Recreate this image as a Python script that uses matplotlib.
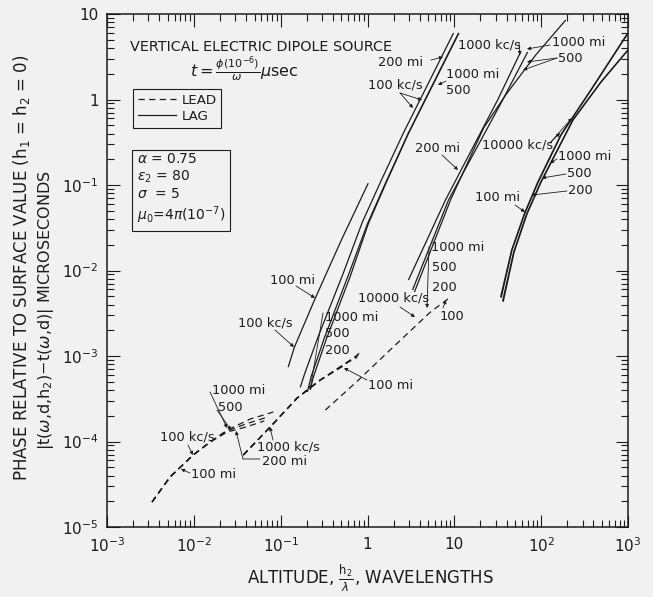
import numpy as np
import matplotlib
matplotlib.use("Agg")
import matplotlib.pyplot as plt
from matplotlib.lines import Line2D
from matplotlib.ticker import FixedLocator, LogLocator, NullFormatter

# ---------------- data ----------------
x_ticks = [1e-3, 1e-2, 1e-1, 1, 10, 1e2, 1e3]
x_tick_labels = ["10$^{-3}$", "10$^{-2}$", "10$^{-1}$", "1", "10", "10$^{2}$", "10$^{3}$"]
y_ticks = [1e-5, 1e-4, 1e-3, 1e-2, 1e-1, 1, 10]
y_tick_labels = ["10$^{-5}$", "10$^{-4}$", "10$^{-3}$", "10$^{-2}$", "10$^{-1}$", "1", "10"]

# LAG curves (solid)
lag100_100mi_x = [0.122, 0.144, 0.251, 0.50, 1.02]
lag100_100mi_y = [7.4e-4, 1.27e-3, 4.77e-3, 0.0227, 0.105]
lag100_200mi_x = [0.168, 0.192, 0.272, 0.527, 0.873, 1.41, 2.59, 5.04, 9.79]
lag100_200mi_y = [4.3e-4, 6.5e-4, 1.71e-3, 9.35e-3, 0.0369, 0.108, 0.406, 1.56, 6.0]
lag100_500mi_x = [0.203, 0.225, 0.318, 0.603, 0.997, 1.61, 2.96, 5.75, 11.2]
lag100_500mi_y = [3.8e-4, 5.8e-4, 1.62e-3, 8.86e-3, 0.035, 0.105, 0.406, 1.56, 6.0]
lag100_1000mi_x = [0.219, 0.238, 0.336, 0.635, 1.02, 1.63, 2.98, 5.8, 11.3]
lag100_1000mi_y = [4.0e-4, 5.68e-4, 1.58e-3, 8.63e-3, 0.035, 0.105, 0.406, 1.56, 6.0]

lag1000_200mi_x = [2.96, 7.91, 31.5, 58.0]
lag1000_200mi_y = [7.74e-3, 0.0668, 0.986, 3.6]
lag1000_500mi_x = [3.30, 8.57, 36.0, 69.9]
lag1000_500mi_y = [5.91e-3, 0.0668, 0.986, 3.6]
lag1000_1000mi_x = [3.47, 9.04, 21.7, 39.0, 86.4, 192]
lag1000_1000mi_y = [5.6e-3, 0.0668, 0.464, 1.13, 3.31, 8.51]

lag10000_100mi_x = [34.1, 45.7, 64.5, 91.2, 168, 372, 995]
lag10000_100mi_y = [4.9e-3, 0.0174, 0.0471, 0.108, 0.385, 1.29, 6.0]
lag10000_200mi_x = [34.6, 46.2, 65.2, 92.5, 170, 376, 995]
lag10000_200mi_y = [4.8e-3, 0.0174, 0.0471, 0.108, 0.385, 1.29, 5.9]
lag10000_500mi_x = [36.0, 48.2, 68.0, 98.7, 231, 486, 995]
lag10000_500mi_y = [4.4e-3, 0.0164, 0.0458, 0.108, 0.575, 1.60, 3.79]
lag10000_1000mi_x = [36.5, 48.8, 68.8, 99.8, 233, 490, 995]
lag10000_1000mi_y = [4.3e-3, 0.0164, 0.0458, 0.108, 0.575, 1.60, 3.75]

# LEAD curves (dashed)
lead100_100mi_x = [0.0033, 0.00533, 0.00982, 0.0154]
lead100_100mi_y = [1.96e-5, 3.85e-5, 6.95e-5, 9.86e-5]
lead100_200mi_x = [0.0033, 0.00533, 0.00982, 0.0154, 0.0242, 0.0401, 0.0647]
lead100_200mi_y = [1.96e-5, 3.85e-5, 6.95e-5, 9.86e-5, 1.29e-4, 1.48e-4, 1.74e-4]
lead100_500mi_x = [0.0033, 0.00533, 0.00982, 0.0154, 0.0242, 0.0423, 0.0720]
lead100_500mi_y = [1.96e-5, 3.85e-5, 6.95e-5, 9.86e-5, 1.33e-4, 1.64e-4, 1.94e-4]
lead100_1000mi_x = [0.0033, 0.00533, 0.00982, 0.0154, 0.0242, 0.0446, 0.0822]
lead100_1000mi_y = [1.96e-5, 3.85e-5, 6.95e-5, 9.86e-5, 1.36e-4, 1.83e-4, 2.21e-4]

lead1000_100mi_x = [0.0371, 0.0759, 0.155, 0.286, 0.527]
lead1000_100mi_y = [6.95e-5, 1.48e-4, 3.23e-4, 5.24e-4, 7.64e-4]
lead1000_200mi_x = [0.0371, 0.0759, 0.155, 0.286, 0.603, 0.766]
lead1000_200mi_y = [6.95e-5, 1.48e-4, 3.23e-4, 5.24e-4, 8.5e-4, 9.7e-4]
lead1000_500mi_x = [0.0371, 0.0759, 0.155, 0.286, 0.635, 0.785]
lead1000_500mi_y = [6.95e-5, 1.48e-4, 3.23e-4, 5.24e-4, 8.98e-4, 1.03e-3]
lead1000_1000mi_x = [0.0371, 0.0759, 0.155, 0.286, 0.670, 0.828]
lead1000_1000mi_y = [6.95e-5, 1.48e-4, 3.23e-4, 5.24e-4, 9.2e-4, 1.11e-3]

lead10000_x = [0.327, 0.766, 2.10, 5.31, 9.04]
lead10000_y = [2.33e-4, 5.1e-4, 1.35e-3, 3.27e-3, 4.9e-3]

lag_curves = [
    (lag100_100mi_x, lag100_100mi_y), (lag100_200mi_x, lag100_200mi_y),
    (lag100_500mi_x, lag100_500mi_y), (lag100_1000mi_x, lag100_1000mi_y),
    (lag1000_200mi_x, lag1000_200mi_y), (lag1000_500mi_x, lag1000_500mi_y),
    (lag1000_1000mi_x, lag1000_1000mi_y),
    (lag10000_100mi_x, lag10000_100mi_y), (lag10000_200mi_x, lag10000_200mi_y),
    (lag10000_500mi_x, lag10000_500mi_y), (lag10000_1000mi_x, lag10000_1000mi_y),
]
lead_curves = [
    (lead100_100mi_x, lead100_100mi_y), (lead100_200mi_x, lead100_200mi_y),
    (lead100_500mi_x, lead100_500mi_y), (lead100_1000mi_x, lead100_1000mi_y),
    (lead1000_100mi_x, lead1000_100mi_y), (lead1000_200mi_x, lead1000_200mi_y),
    (lead1000_500mi_x, lead1000_500mi_y), (lead1000_1000mi_x, lead1000_1000mi_y),
    (lead10000_x, lead10000_y),
]

# ---------------- style ----------------
INK = "#1c1c1c"
BG = "#f1f1f1"
DASH = (0, (5, 3.5))
plt.rcParams["font.family"] = ["DejaVu Sans"]
plt.rcParams["mathtext.fontset"] = "dejavusans"

W, H = 653, 597
fig = plt.figure(figsize=(W / 100, H / 100), dpi=100, facecolor=BG)
AX_L, AX_R, AX_T, AX_B = 107, 628, 14, 527
ax = fig.add_axes([AX_L / W, 1 - AX_B / H, (AX_R - AX_L) / W, (AX_B - AX_T) / H])
ax.set_facecolor(BG)
ax.set_xscale("log")
ax.set_yscale("log")
ax.set_xlim(1e-3, 1e3)
ax.set_ylim(1e-5, 10)

for cx, cy in lag_curves:
    ax.plot(cx, cy, color=INK, lw=0.9, ls="-", solid_capstyle="butt", solid_joinstyle="round")
for cx, cy in lead_curves:
    ax.plot(cx, cy, color=INK, lw=0.9, ls=DASH)

ax.xaxis.set_major_locator(FixedLocator(x_ticks))
ax.set_xticklabels(x_tick_labels)
ax.yaxis.set_major_locator(FixedLocator(y_ticks))
ax.set_yticklabels(y_tick_labels)
for a in (ax.xaxis, ax.yaxis):
    a.set_minor_locator(LogLocator(base=10, subs=np.arange(2, 10), numticks=30))
    a.set_minor_formatter(NullFormatter())
ax.tick_params(which="both", direction="in", top=True, right=True, color=INK, width=0.8)
ax.tick_params(which="major", length=9, labelsize=11, labelcolor=INK)
ax.tick_params(axis="x", which="major", pad=7)
ax.tick_params(axis="y", which="major", pad=6)
ax.tick_params(which="minor", length=5)
for s in ax.spines.values():
    s.set_color(INK)
    s.set_linewidth(1.1)


def P(px, py):
    """reference-pixel position -> data coordinates (for annotation placement)"""
    return (10 ** (-3 + 6 * (px - AX_L) / (AX_R - AX_L)),
            10 ** (1 - 6 * (py - AX_T) / (AX_B - AX_T)))


def lab(s, px, py, ha="left", fs=9.3):
    ax.text(*P(px, py), s, ha=ha, va="center", fontsize=fs, color=INK)


def lead(p0, p1, arrow=True):
    ax.annotate("", xy=P(*p1), xytext=P(*p0),
                arrowprops=dict(arrowstyle="-|>" if arrow else "-", lw=0.6, color=INK,
                                mutation_scale=5, shrinkA=0, shrinkB=0))


# --- labels: 100 kc/s lag (upper) ---
lab("200 mi", 378, 62); lead((431, 60), (443, 57))
lab("100 kc/s", 368, 85); lead((400, 93), (422, 100)); lead((400, 93), (413, 108))
lab("1000 mi", 446, 75); lab("500", 446, 90); lead((446, 81), (438, 85))
# --- 100 kc/s lag (lower) ---
lab("100 mi", 270, 280); lead((296, 286), (315, 298))
lab("100 kc/s", 238, 323); lead((275, 330), (294, 347))
lab("1000 mi", 325, 317); lab("500", 325, 333); lab("200", 325, 350)
lead((323, 313), (310, 390))
# --- 100 kc/s lead ---
lab("1000 mi", 212, 390); lab("500", 218, 407)
lead((210, 392), (227, 428)); lead((217, 410), (231, 430))
lab("100 kc/s", 160, 437); lead((188, 445), (193, 455))
lab("100 mi", 191, 475); lead((190, 473), (181, 469))
lab("1000 kc/s", 257, 447); lead((273, 440), (270, 427))
lab("200 mi", 262, 461); lead((260, 459), (243, 459), arrow=False); lead((243, 459), (236, 431))
# --- 1000 kc/s lead ---
lab("100 mi", 368, 385); lead((367, 380), (344, 368))
# --- 10000 kc/s lead ---
lab("10000 kc/s", 358, 298); lead((400, 307), (415, 317))
lab("1000 mi", 431, 247); lab("500", 432, 267); lab("200", 432, 287)
lead((429, 247), (427, 308))
lab("100", 440, 316); lead((443, 308), (446, 300))
# --- 1000 kc/s lag ---
lab("200 mi", 415, 148); lead((442, 155), (458, 170))
lab("1000 kc/s", 458, 45); lead((519, 43), (520, 55))
lab("1000 mi", 552, 43); lead((550, 45), (527, 49))
lab("500", 558, 58); lead((557, 58), (527, 62)); lead((557, 58), (523, 70))
# --- 10000 kc/s lag ---
lab("10000 kc/s", 482, 145); lead((550, 143), (572, 118)); lead((550, 143), (560, 133))
lab("1000 mi", 558, 156); lead((557, 159), (550, 163))
lab("500", 567, 173); lead((566, 174), (542, 178))
lab("200", 568, 190); lead((567, 191), (532, 195))
lab("100 mi", 475, 197); lead((515, 205), (525, 212))

# --- header texts ---
fig.text(130 / W, 1 - 47 / H, "VERTICAL ELECTRIC DIPOLE SOURCE", fontsize=10.4,
         va="center", ha="left", color=INK)
fig.text(190 / W, 1 - 69 / H, r"$t=\frac{\phi(10^{-6})}{\omega}\mu$sec", fontsize=11.5,
         va="center", ha="left", color=INK)

# legend
handles = [Line2D([], [], color=INK, lw=0.9, ls=DASH), Line2D([], [], color=INK, lw=0.9)]
leg = ax.legend(handles, ["LEAD", "LAG"], loc="upper left",
                bbox_to_anchor=((133 - AX_L) / (AX_R - AX_L), 1 - (89 - AX_T) / (AX_B - AX_T)),
                borderaxespad=0, fancybox=False, frameon=True, edgecolor=INK,
                facecolor=BG, framealpha=1, fontsize=9.6, handlelength=2.9,
                borderpad=0.35, labelspacing=0.25, handletextpad=0.4)
leg.get_frame().set_linewidth(0.8)
for t in leg.get_texts():
    t.set_color(INK)

# parameter box
fig.text(137 / W, 1 - 189 / H,
         "$\\alpha$ = 0.75\n$\\epsilon_2$ = 80\n$\\sigma$  = 5\n$\\mu_0$=4$\\pi$(10$^{-7}$)",
         fontsize=10, va="center", ha="left", color=INK, linespacing=1.2,
         bbox=dict(boxstyle="square,pad=0.35", fc=BG, ec=INK, lw=0.8))

# axis titles
fig.text(22 / W, 1 - 268 / H, "PHASE RELATIVE TO SURFACE VALUE (h$_1$ = h$_2$ = 0)",
         rotation=90, ha="center", va="center", fontsize=12, color=INK)
fig.text(46 / W, 1 - 310 / H,
         r"$|$t($\omega$,d,h$_2$)$-$t($\omega$,d)$|$ MICROSECONDS",
         rotation=90, ha="center", va="center", fontsize=11.5, color=INK)
fig.text(370 / W, 1 - 578 / H, r"ALTITUDE, $\frac{\mathrm{h_2}}{\lambda}$, WAVELENGTHS",
         ha="center", va="center", fontsize=12, color=INK)

fig.savefig("out.png", dpi=100, facecolor=BG)
